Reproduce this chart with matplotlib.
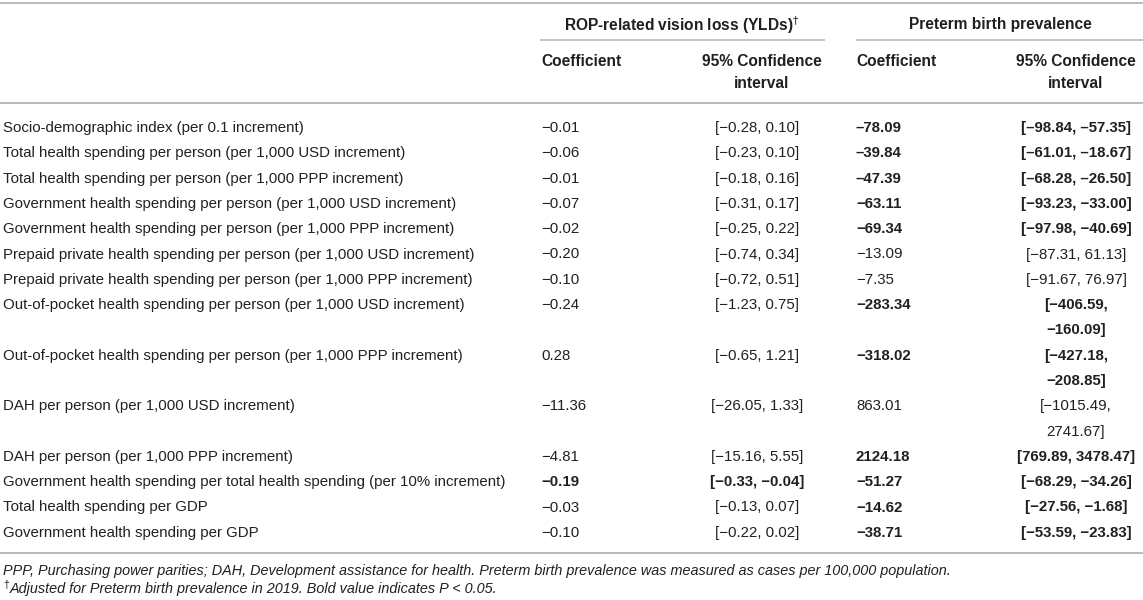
import matplotlib
matplotlib.use("Agg")
import matplotlib.pyplot as plt

plt.rcParams['font.family'] = ['Liberation Sans', 'DejaVu Sans']

# table content
labels = [
    "Socio-demographic index (per 0.1 increment)",
    "Total health spending per person (per 1,000 USD increment)",
    "Total health spending per person (per 1,000 PPP increment)",
    "Government health spending per person (per 1,000 USD increment)",
    "Government health spending per person (per 1,000 PPP increment)",
    "Prepaid private health spending per person (per 1,000 USD increment)",
    "Prepaid private health spending per person (per 1,000 PPP increment)",
    "Out-of-pocket health spending per person (per 1,000 USD increment)",
    "Out-of-pocket health spending per person (per 1,000 PPP increment)",
    "DAH per person (per 1,000 USD increment)",
    "DAH per person (per 1,000 PPP increment)",
    "Government health spending per total health spending (per 10% increment)",
    "Total health spending per GDP",
    "Government health spending per GDP",
]
rop_coef = ["−0.01", "−0.06", "−0.01", "−0.07", "−0.02", "−0.20", "−0.10",
            "−0.24", "0.28", "−11.36", "−4.81", "−0.19", "−0.03", "−0.10"]
rop_ci = ["[−0.28, 0.10]", "[−0.23, 0.10]", "[−0.18, 0.16]", "[−0.31, 0.17]",
          "[−0.25, 0.22]", "[−0.74, 0.34]", "[−0.72, 0.51]", "[−1.23, 0.75]",
          "[−0.65, 1.21]", "[−26.05, 1.33]", "[−15.16, 5.55]", "[−0.33, −0.04]",
          "[−0.13, 0.07]", "[−0.22, 0.02]"]
rop_bold = [False] * 11 + [True] + [False] * 2
pb_coef = ["–78.09", "–39.84", "–47.39", "−63.11", "−69.34", "−13.09", "−7.35",
           "−283.34", "−318.02", "863.01", "2124.18", "−51.27", "−14.62", "−38.71"]
pb_ci = ["[–98.84, –57.35]", "[–61.01, –18.67]", "[–68.28, –26.50]",
         "[−93.23, −33.00]", "[−97.98, −40.69]", "[−87.31, 61.13]",
         "[−91.67, 76.97]", "[−406.59, −160.09]", "[−427.18, −208.85]",
         "[−1015.49, 2741.67]", "[769.89, 3478.47]", "[−68.29, −34.26]",
         "[−27.56, −1.68]", "[−53.59, −23.83]"]
pb_bold = [True, True, True, True, True, False, False,
           True, True, False, True, True, True, True]

W, H = 1143, 600
fig = plt.figure(figsize=(W / 100, H / 100), dpi=100)
ax = fig.add_axes([0, 0, 1, 1])
ax.set_xlim(0, W)
ax.set_ylim(H, 0)
ax.axis('off')

txt = '#231f20'
rule = '#b4b4b4'
fs = 10.8
hfs = 11.2

x_lab, x_rc, x_rci, x_pc, x_pci = 3, 541, 757, 856, 1076

# rules
for y in (3, 103, 553):
    ax.plot([0, W], [y, y], color=rule, lw=1.3, solid_capstyle='butt')
ax.plot([540, 825], [40, 40], color=rule, lw=1.1, solid_capstyle='butt')
ax.plot([856, W], [40, 40], color=rule, lw=1.1, solid_capstyle='butt')

# headers
ax.text(682, 23, r"ROP-related vision loss (YLDs)$^{\dagger}$", ha='center',
        va='center_baseline', fontsize=hfs, fontweight='bold', color=txt)
ax.text(1000, 23, "Preterm birth prevalence", ha='center', va='center_baseline',
        fontsize=hfs, fontweight='bold', color=txt)
for xc, xh in ((x_rc, 762), (x_pc, 1076)):
    ax.text(xc, 60, "Coefficient", ha='left', va='center_baseline',
            fontsize=hfs, fontweight='bold', color=txt)
    ax.text(xh, 60, "95% Confidence", ha='center', va='center_baseline',
            fontsize=hfs, fontweight='bold', color=txt)
    ax.text(xh, 82, "interval", ha='center', va='center_baseline',
            fontsize=hfs, fontweight='bold', color=txt)

# body
step = 25.3
line = 0
for i, lab in enumerate(labels):
    y = 126.5 + line * step
    ci2 = pb_ci[i]
    nl = 1
    if len(ci2) >= 18:
        a, b = ci2.split(", ")
        ci2 = a + ",\n" + b
        nl = 2
    ax.text(x_lab, y, lab, ha='left', va='center_baseline', fontsize=fs, color=txt)
    rw = 'bold' if rop_bold[i] else 'normal'
    pw = 'bold' if pb_bold[i] else 'normal'
    ax.text(x_rc, y, rop_coef[i], ha='left', va='center_baseline',
            fontsize=fs, fontweight=rw, color=txt)
    ax.text(x_rci, y, rop_ci[i], ha='center', va='center_baseline',
            fontsize=fs, fontweight=rw, color=txt)
    ax.text(x_pc, y, pb_coef[i], ha='left', va='center_baseline',
            fontsize=fs, fontweight=pw, color=txt)
    for k, part in enumerate(ci2.split("\n")):
        ax.text(x_pci, y + k * step, part, ha='center', va='center_baseline',
                fontsize=fs, fontweight=pw, color=txt)
    line += nl

# footnotes
ffs = 10.4
ax.text(x_lab, 569, "PPP, Purchasing power parities; DAH, Development assistance for health. "
        "Preterm birth prevalence was measured as cases per 100,000 population.",
        ha='left', va='center_baseline', fontsize=ffs, style='italic', color=txt)
ax.text(x_lab, 584, "†", ha='left', va='center_baseline', fontsize=7.5,
        color=txt)
ax.text(x_lab + 7, 587, "Adjusted for Preterm birth prevalence in 2019. Bold value indicates P < 0.05.",
        ha='left', va='center_baseline', fontsize=ffs, style='italic', color=txt)

fig.savefig("out.png", dpi=100)
